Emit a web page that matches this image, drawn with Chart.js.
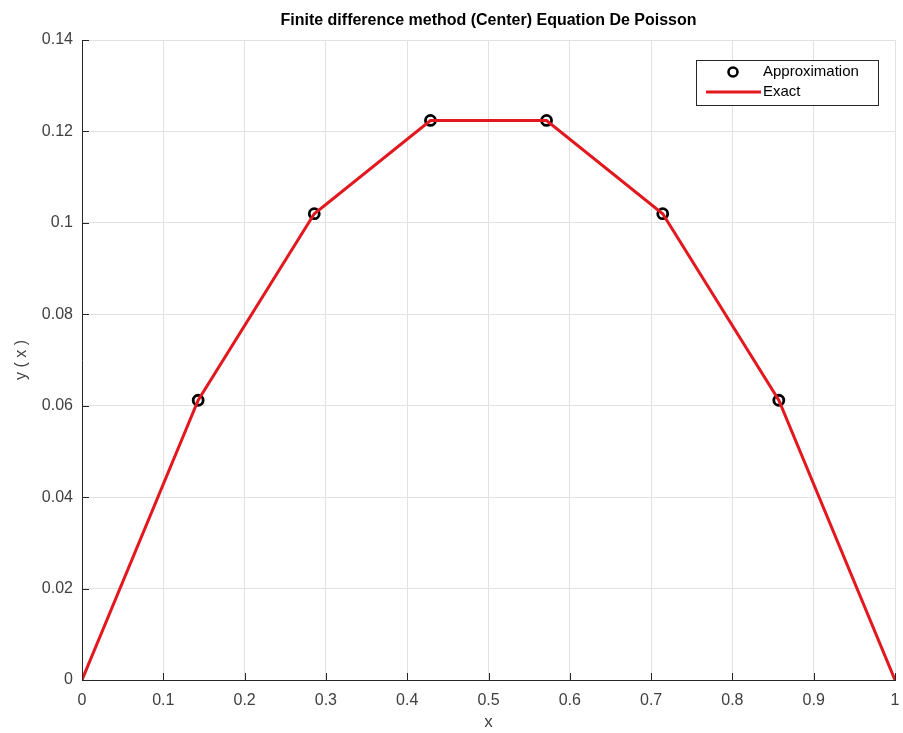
<!DOCTYPE html>
<html>
<head>
<meta charset="utf-8">
<script src="https://cdn.jsdelivr.net/npm/chart.js@4"></script>
<style>
  html, body { margin: 0; padding: 0; background: #fff; }
  #wrap { width: 903px; height: 733px; }
</style>
</head>
<body>
<div id="wrap"><canvas id="chart" width="903" height="733"></canvas></div>
<script>
// valeurs
const xNodes   = [0, 0.1429, 0.2857, 0.4286, 0.5714, 0.7143, 0.8571, 1];
const yExact   = [0, 0.0612, 0.1020, 0.1224, 0.1224, 0.1020, 0.0612, 0];
const xApprox  = [0.1429, 0.2857, 0.4286, 0.5714, 0.7143, 0.8571];
const yApprox  = [0.0612, 0.1020, 0.1224, 0.1224, 0.1020, 0.0612];
const xTicks   = [0, 0.1, 0.2, 0.3, 0.4, 0.5, 0.6, 0.7, 0.8, 0.9, 1];
const yTicks   = [0, 0.02, 0.04, 0.06, 0.08, 0.1, 0.12, 0.14];

const titre = 'Finite difference method (Center) Equation De Poisson';
const axisColor = '#262626';
const fontFam = 'Helvetica, Arial, "Liberation Sans", sans-serif';

const fmt = v => String(Number(v.toFixed(2)));

// titre, ticks intérieurs et légende façon MATLAB
const matlabDeco = {
    id: 'matlabDeco',
    afterDraw(chart) {
        const ctx = chart.ctx;
        const a = chart.chartArea;
        const sx = chart.scales.x, sy = chart.scales.y;
        ctx.save();

        ctx.strokeStyle = axisColor;
        ctx.lineWidth = 1;
        ctx.beginPath();
        xTicks.forEach(t => {
            const px = Math.round(sx.getPixelForValue(t)) + 0.5;
            ctx.moveTo(px, a.bottom); ctx.lineTo(px, a.bottom - 7);
        });
        yTicks.forEach(t => {
            const py = Math.round(sy.getPixelForValue(t)) + 0.5;
            ctx.moveTo(a.left, py); ctx.lineTo(a.left + 7, py);
        });
        ctx.stroke();

        ctx.fillStyle = '#000';
        ctx.font = 'bold 16px ' + fontFam;
        ctx.textAlign = 'center';
        ctx.textBaseline = 'middle';
        ctx.fillText(titre, (a.left + a.right) / 2, 21);

        // légende
        const lx = 696, ly = 60, lw = 182, lh = 45;
        ctx.fillStyle = '#fff';
        ctx.fillRect(lx, ly, lw, lh);
        ctx.strokeStyle = '#262626';
        ctx.lineWidth = 1;
        ctx.strokeRect(lx + 0.5, ly + 0.5, lw, lh);

        ctx.beginPath();
        ctx.arc(lx + 37, ly + 12, 4.5, 0, Math.PI * 2);
        ctx.strokeStyle = '#000';
        ctx.lineWidth = 2.6;
        ctx.stroke();

        ctx.beginPath();
        ctx.moveTo(lx + 10, ly + 32);
        ctx.lineTo(lx + 65, ly + 32);
        ctx.strokeStyle = '#e3181f';
        ctx.lineWidth = 3;
        ctx.stroke();

        ctx.fillStyle = '#000';
        ctx.font = '15px ' + fontFam;
        ctx.textAlign = 'left';
        ctx.fillText('Approximation', lx + 67, ly + 12);
        ctx.fillText('Exact', lx + 67, ly + 32);
        ctx.restore();
    }
};

new Chart(document.getElementById('chart'), {
    type: 'scatter',
    data: {
        datasets: [
            {
                label: 'Exact',
                data: xNodes.map((x, i) => ({ x, y: yExact[i] })),
                showLine: true,
                borderColor: '#e3181f',
                borderWidth: 3,
                pointRadius: 0,
                fill: false,
                order: 0
            },
            {
                label: 'Approximation',
                data: xApprox.map((x, i) => ({ x, y: yApprox[i] })),
                showLine: false,
                pointRadius: 5,
                pointBorderWidth: 2.8,
                pointBorderColor: '#000',
                pointBackgroundColor: 'rgba(0,0,0,0)',
                order: 1
            }
        ]
    },
    options: {
        responsive: false,
        animation: false,
        layout: { padding: { left: 0, right: 8, top: 40, bottom: 0 } },
        plugins: {
            legend: { display: false },
            title: { display: false },
            tooltip: { enabled: false }
        },
        scales: {
            x: {
                type: 'linear',
                min: 0, max: 1,
                afterBuildTicks: s => { s.ticks = xTicks.map(v => ({ value: v })); },
                afterFit: s => { s.height = 53; s.paddingLeft = 0; s.paddingRight = 0; },
                ticks: {
                    callback: v => fmt(v),
                    color: '#404040',
                    font: { size: 16, family: fontFam },
                    padding: 11,
                    maxRotation: 0
                },
                grid: { color: '#e1e1e1', lineWidth: 1, drawTicks: false },
                border: { color: axisColor, width: 1 },
                title: {
                    display: true, text: 'x', color: '#404040',
                    font: { size: 17, family: fontFam },
                    padding: { top: 0, bottom: 0 }
                }
            },
            y: {
                type: 'linear',
                min: 0, max: 0.14,
                afterBuildTicks: s => { s.ticks = yTicks.map(v => ({ value: v })); },
                afterFit: s => { s.width = 82; },
                ticks: {
                    callback: v => fmt(v),
                    color: '#404040',
                    font: { size: 16, family: fontFam },
                    padding: 9
                },
                grid: { color: '#e1e1e1', lineWidth: 1, drawTicks: false },
                border: { color: axisColor, width: 1 },
                title: {
                    display: true, text: 'y ( x )', color: '#404040',
                    font: { size: 16, family: fontFam },
                    padding: { top: 12, bottom: 6 }
                }
            }
        }
    },
    plugins: [matlabDeco]
});
</script>
</body>
</html>
